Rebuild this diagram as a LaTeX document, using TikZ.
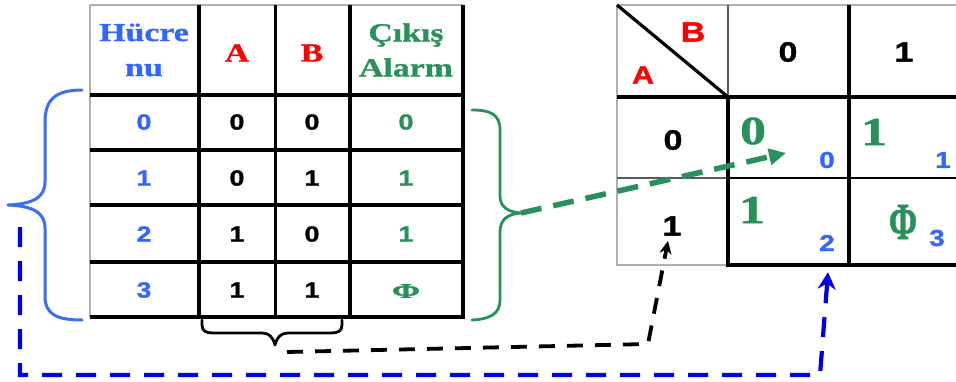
\documentclass[tikz,border=0pt]{standalone}
\usepackage{fontspec}
\setmainfont{Liberation Serif}
\newfontfamily\serifw[FakeStretch=1.3,BoldFeatures={FakeBold=1.2}]{Liberation Serif}
\newfontfamily\serifn[BoldFeatures={FakeBold=1.2}]{Liberation Serif}
\newfontfamily\sansw[FakeStretch=1.22,BoldFeatures={FakeBold=1.2}]{Liberation Sans}
\usetikzlibrary{arrows.meta,calc}
\definecolor{tblue}{RGB}{51,102,255}
\definecolor{bblue}{RGB}{60,110,240}
\definecolor{tgreen}{RGB}{40,145,90}
\definecolor{tred}{RGB}{255,0,0}
\definecolor{dblue}{RGB}{0,0,230}
\definecolor{gline}{RGB}{175,175,175}
\definecolor{dgline}{RGB}{90,90,90}
\begin{document}
\begin{tikzpicture}[x=1pt,y=-1pt,
  thinline/.style={draw=gline,line width=1.6pt},
  medline/.style={draw=black,line width=2.6pt},
  thickline/.style={draw=black,line width=3.6pt},
  hdr/.style={font=\serifw\bfseries\fontsize{26}{35}\selectfont,align=center,inner sep=0pt},
  bd/.style={font=\sansw\bfseries\fontsize{22}{24}\selectfont,inner sep=0pt},
  kh/.style={font=\sansw\bfseries\fontsize{28}{30}\selectfont,inner sep=0pt},
  kg/.style={font=\serifw\bfseries\fontsize{40}{42}\selectfont,text=tgreen,inner sep=0pt},
  ks/.style={font=\sansw\bfseries\fontsize{23}{25}\selectfont,text=tblue,inner sep=0pt},
  bracepath/.style={line width=3pt,line join=round,line cap=round},
]
\useasboundingbox (0,0) rectangle (956,381);
\clip (0,0) rectangle (956,381);
\fill[white] (0,0) rectangle (956,381);

% ---------- truth table ----------
\draw[thinline] (90,5) -- (463,5);
\draw[thinline] (90,5) -- (90,317);
\foreach \y in {95,150,205,262,317} \draw[thickline] (90,\y) -- (465,\y);
\draw[thickline] (199,5) -- (199,319);
\draw[medline,line width=3pt] (275,5) -- (275,319);
\draw[thickline] (350,5) -- (350,319);
\draw[thickline] (463,5) -- (463,319);

\node[hdr,text=tblue] (hc) at (144,50) {Hücre\\nu};
\node[hdr,text=tred] (ha) at (237,53) {A};
\node[hdr,text=tred] (hb) at (312,53) {B};
\node[hdr,text=tgreen] (hy) at (406,50) {Çıkış\\Alarm};

\node[bd,text=tblue] (c0) at (144,122) {0};
\node[bd] (a0) at (237,122) {0};
\node[bd] (b0) at (312,122) {0};
\node[bd,text=tgreen] (y0) at (406,122) {0};

\node[bd,text=tblue] (c1) at (144,178) {1};
\node[bd] (a1) at (237,178) {0};
\node[bd] (b1) at (312,178) {1};
\node[bd,text=tgreen] (y1) at (406,178) {1};

\node[bd,text=tblue] (c2) at (144,234) {2};
\node[bd] (a2) at (237,234) {1};
\node[bd] (b2) at (312,234) {0};
\node[bd,text=tgreen] (y2) at (406,234) {1};

\node[bd,text=tblue] (c3) at (144,290) {3};
\node[bd] (a3) at (237,290) {1};
\node[bd] (b3) at (312,290) {1};
\node[bd,text=tgreen] (y3) at (406,291) {\serifn\bfseries\fontsize{22}{24}\selectfont\scalebox{1.55}[0.95]{Φ}};

% ---------- braces ----------
\draw[bracepath,bblue] (82,90) .. controls (55,90) and (45,100) .. (45,122) -- (45,182)
  .. controls (45,198) and (32,204) .. (8,205)
  .. controls (32,206) and (45,212) .. (45,228) -- (45,296)
  .. controls (45,314) and (56,320) .. (82,320);
\coordinate (bluetip) at (8,205);

\draw[bracepath,tgreen,line width=2.8pt] (472,110) .. controls (490,110) and (500,114) .. (500,130) -- (500,196)
  .. controls (500,207) and (508,212) .. (521,213)
  .. controls (508,214) and (500,219) .. (500,232) -- (500,300)
  .. controls (500,314) and (490,319) .. (472,320);
\coordinate (greentip) at (521,213);

\draw[bracepath,black,line width=2.8pt] (202,320) -- (202,325) .. controls (202,331) and (206,333) .. (213,333) -- (262,333)
  .. controls (269,333) and (273,337) .. (275,345)
  .. controls (277,337) and (281,333) .. (288,333) -- (331,333)
  .. controls (338,333) and (342,331) .. (342,325) -- (342,320);
\coordinate (blacktip) at (287,352);

% ---------- K-map ----------
\draw[thinline] (617,5) -- (960,5);
\draw[thinline] (617,5) -- (617,266);
\draw[thickline] (617,97) -- (960,97);
\draw[draw=dgline,line width=2.4pt] (617,178) -- (728,178);
\draw[medline] (728,178) -- (960,178);
\draw[thinline] (617,265) -- (728,265);
\draw[thickline,line width=4pt] (728,265) -- (960,265);
\draw[draw=dgline,line width=2.4pt] (728,5) -- (728,97);
\draw[thickline,line width=4pt] (728,96) -- (728,267);
\draw[thickline] (849,5) -- (849,267);
\draw[medline,line width=3.2pt] (617,5) -- (728,97);

\node[kh,text=tred] (kB) at (693,32) {B};
\node[kh,text=tred,font=\sansw\bfseries\fontsize{25}{27}\selectfont] (kA) at (643,75) {A};
\node[kh] (kb0) at (788,52) {0};
\node[kh] (kb1) at (904,52) {1};
\node[kh] (ka0) at (673,140) {0};
\node[kh] (ka1) at (672,226) {1};

\node[kg] (m0) at (753,131) {0};
\node[kg] (m1) at (874,132) {1};
\node[kg] (m2) at (752,210) {1};
\node[kg] (m3) at (903,222) {\serifn\bfseries\scalebox{0.85}[1.3]{Φ}};

\node[ks] (i0) at (827,160) {0};
\node[ks] (i1) at (943,160) {1};
\node[ks] (i2) at (827,243) {2};
\node[ks] (i3) at (937,238) {3};

\coordinate (gtarget) at (786,153);

% ---------- dashed connectors ----------
\draw[tgreen,line width=5.5pt,dash pattern=on 21pt off 12pt,-{Triangle[length=17pt,width=16pt]}]
  (greentip) -- (gtarget);

\draw[black,line width=3.8pt,dash pattern=on 16pt off 12pt,-{Stealth[length=13pt,width=12pt]}]
  (blacktip) -- (648,344) -- ($(ka1.south)+(-4,5)$);

\draw[dblue,line width=4.2pt,dash pattern=on 20pt off 14pt,-{Stealth[length=17pt,width=18pt]}]
  ($(bluetip)+(12,22)$) -- (20,375) -- (820,375) -- ($(i2.south)+(1,21)$);
\end{tikzpicture}
\end{document}
